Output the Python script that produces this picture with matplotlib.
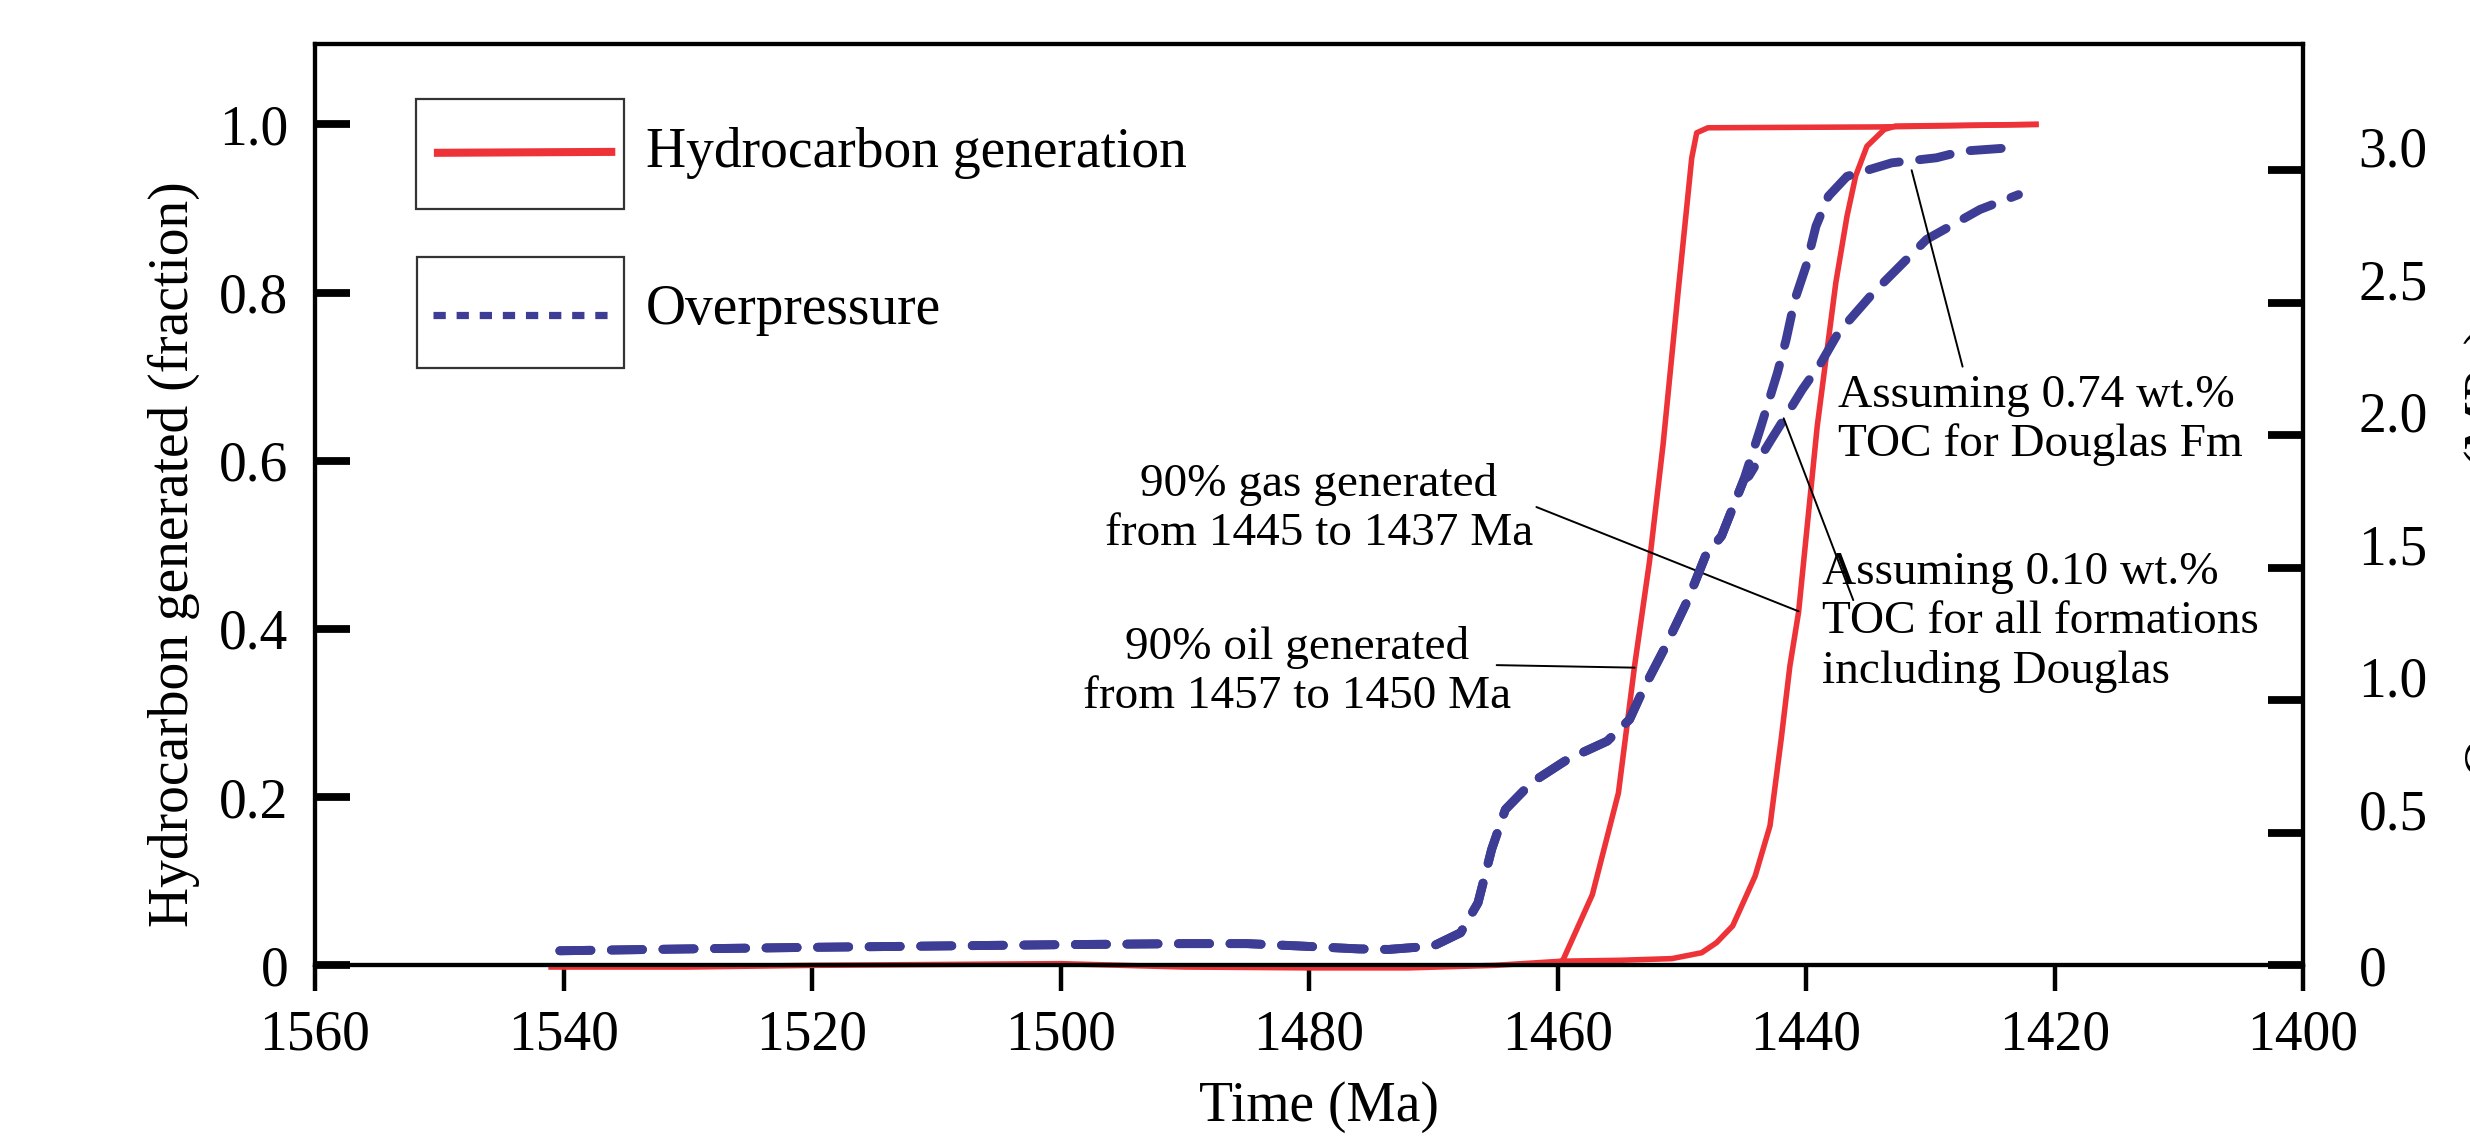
import matplotlib
matplotlib.use("Agg")
import matplotlib.pyplot as plt
from matplotlib.transforms import ScaledTranslation
from matplotlib.patches import Rectangle
from matplotlib.lines import Line2D

plt.rcParams['font.family'] = ['Liberation Serif', 'DejaVu Serif']

# ---------------- data ----------------
# Hydrocarbon generation (fraction) - oil (earlier curve)
oil_time = [1541, 1530, 1520, 1510, 1500, 1490, 1480, 1472, 1465, 1459.6,
            1457.2, 1455.1, 1453.8, 1452.6, 1451.5, 1450.3, 1449.2, 1448.8,
            1447.9, 1434.0, 1421.5]
oil_frac = [-0.002, -0.002, 0.0, 0.001, 0.002, -0.002, -0.003, -0.003, 0.0, 0.005,
            0.084, 0.205, 0.356, 0.48, 0.62, 0.80, 0.96, 0.99,
            0.996, 0.997, 1.0]
# Hydrocarbon generation (fraction) - gas (later curve)
gas_time = [1459.6, 1455.0, 1450.8, 1448.4, 1447.2, 1445.9, 1444.1, 1442.9,
            1442.0, 1441.3, 1440.6, 1439.1, 1437.6, 1436.7, 1436.0, 1435.1,
            1433.7, 1432.8, 1421.5]
gas_frac = [0.005, 0.006, 0.008, 0.015, 0.027, 0.047, 0.106, 0.166,
            0.269, 0.356, 0.42, 0.641, 0.812, 0.891, 0.939, 0.974,
            0.994, 0.998, 1.0]

# Overpressure (right axis) - common early part
op_shared_time = [1540.3, 1530, 1520, 1510, 1500, 1490, 1485, 1480.75, 1476,
                  1473.6, 1470.0, 1467.8, 1466.4, 1465.3, 1464.2, 1462.1,
                  1459.2, 1456.0, 1454.2, 1453.1, 1451.3, 1449.5, 1448.1,
                  1446.8, 1445.0]
op_shared = [0.055, 0.062, 0.068, 0.073, 0.078, 0.082, 0.082, 0.073, 0.062,
             0.060, 0.073, 0.123, 0.236, 0.438, 0.588, 0.689,
             0.777, 0.846, 0.928, 1.041, 1.204, 1.38, 1.544,
             1.62, 1.833]
# 0.74 wt.% TOC for Douglas Fm (upper branch)
op_hi_time = [1443.7, 1442.3, 1441.6, 1440.9, 1440.0, 1439.2, 1438.2, 1436.7,
              1433.1, 1429.5, 1427.4, 1423.8]
op_hi = [2.022, 2.236, 2.361, 2.512, 2.638, 2.789, 2.902, 2.977,
         3.028, 3.047, 3.072, 3.084]
# 0.10 wt.% TOC for all formations (lower branch)
op_lo_time = [1444.6, 1442.8, 1441.3, 1440.3, 1438.8, 1437.4, 1434.6, 1430.3,
              1426.0, 1422.9]
op_lo = [1.846, 1.984, 2.097, 2.173, 2.273, 2.387, 2.537, 2.739,
         2.852, 2.908]

x_ticks = [1560, 1540, 1520, 1500, 1480, 1460, 1440, 1420, 1400]
left_ticks = [0, 0.2, 0.4, 0.6, 0.8, 1.0]
left_labels = ['0', '0.2', '0.4', '0.6', '0.8', '1.0']
right_ticks = [0, 0.5, 1.0, 1.5, 2.0, 2.5, 3.0]
right_labels = ['0', '0.5', '1.0', '1.5', '2.0', '2.5', '3.0']

RED = '#EE3338'
BLUE = '#3D3D96'

# ---------------- figure ----------------
fig = plt.figure(figsize=(12.35, 5.685), dpi=200)
ax = fig.add_axes([0.12755, 0.15097, 0.80485, 0.81025])
ax2 = ax.twinx()

ax.set_xlim(1560, 1400)
ax.set_ylim(0, 1.0955)
ax2.set_ylim(0, 3.476)

ax.plot(oil_time, oil_frac, color=RED, lw=2.0, clip_on=False, zorder=3)
ax.plot(gas_time, gas_frac, color=RED, lw=2.0, clip_on=False, zorder=3)

hi_t = op_shared_time + op_hi_time
hi_v = op_shared + op_hi
lo_t = op_shared_time + op_lo_time
lo_v = op_shared + op_lo
for tt, vv in ((hi_t, hi_v), (lo_t, lo_v)):
    ax2.plot(tt, vv, color=BLUE, lw=3.2, linestyle=(0, (3.5, 2.3)),
             dash_capstyle='round', solid_capstyle='round')

# ticks
ax.set_xticks(x_ticks)
ax.set_xticklabels([str(v) for v in x_ticks])
ax.set_yticks(left_ticks)
ax.set_yticklabels(left_labels)
ax2.set_yticks(right_ticks)
ax2.set_yticklabels(right_labels)

ax.tick_params(axis='x', direction='out', length=9.5, width=1.6, pad=6.5,
               labelsize=20)
ax.tick_params(axis='y', direction='in', length=12.5, width=2.8, pad=9.6,
               labelsize=20)
ax2.tick_params(axis='y', direction='in', length=12.5, width=2.8, pad=20,
                labelsize=20)

for sp in list(ax.spines.values()) + list(ax2.spines.values()):
    sp.set_linewidth(1.5)

# right labels sit slightly above their ticks in the original
for tk, val in zip(ax2.yaxis.get_major_ticks(), right_ticks):
    if val > 0:
        off = ScaledTranslation(0, 8.5 / 72, fig.dpi_scale_trans)
        tk.label2.set_transform(tk.label2.get_transform() + off)

# axis labels
ax.set_xlabel('Time (Ma)', fontsize=20)
ax.xaxis.set_label_coords(0.505, -0.125)
ax.set_ylabel('Hydrocarbon generated (fraction)', fontsize=20)
ax.yaxis.set_label_coords(-0.058, 0.446)
fig.text(0.9975, 0.515, 'Overpressure (MPa)', rotation=90, ha='left',
         va='center', fontsize=20)

# legend (two separate boxes)
ax.add_patch(Rectangle((0.0507, 0.8205), 0.1046, 0.1195, transform=ax.transAxes,
                       fill=False, edgecolor='#333333', lw=0.8))
ax.add_line(Line2D([0.0618, 0.1490], [0.882, 0.883], transform=ax.transAxes,
                   color=RED, lw=2.9))
ax.text(0.1664, 0.882, 'Hydrocarbon generation', transform=ax.transAxes,
        fontsize=20, ha='left', va='center')
ax.add_patch(Rectangle((0.0515, 0.648), 0.1038, 0.121, transform=ax.transAxes,
                       fill=False, edgecolor='#333333', lw=0.8))
ax.add_line(Line2D([0.0594, 0.1474], [0.706, 0.706], transform=ax.transAxes,
                   color=BLUE, lw=2.6, linestyle=(0, (1.7, 1.5)),
                   dash_capstyle='butt'))
ax.text(0.1664, 0.711, 'Overpressure', transform=ax.transAxes,
        fontsize=20, ha='left', va='center')

# annotations
ax.text(1479.2, 0.543, '90% gas generated\nfrom 1445 to 1437 Ma', fontsize=17,
        ha='center', va='center', multialignment='center')
ax.text(1481.0, 0.349, '90% oil generated\nfrom 1457 to 1450 Ma', fontsize=17,
        ha='center', va='center', multialignment='center')
ax.text(1437.4, 0.648, 'Assuming 0.74 wt.%\nTOC for Douglas Fm', fontsize=17,
        ha='left', va='center', multialignment='left')
ax.text(1438.7, 0.408, 'Assuming 0.10 wt.%\nTOC for all formations\nincluding Douglas',
        fontsize=17, ha='left', va='center', multialignment='left')

lead = dict(arrowstyle='-', lw=0.7, color='black', shrinkA=0, shrinkB=0)
ax.annotate('', xy=(1440.6, 0.421), xytext=(1461.7, 0.545), arrowprops=lead)
ax.annotate('', xy=(1453.8, 0.354), xytext=(1464.9, 0.357), arrowprops=lead)
ax2.annotate('', xy=(1431.5, 3.0), xytext=(1427.4, 2.259), arrowprops=lead)
ax2.annotate('', xy=(1441.8, 2.064), xytext=(1436.2, 1.378), arrowprops=lead)

fig.savefig('out.png', dpi=200)
